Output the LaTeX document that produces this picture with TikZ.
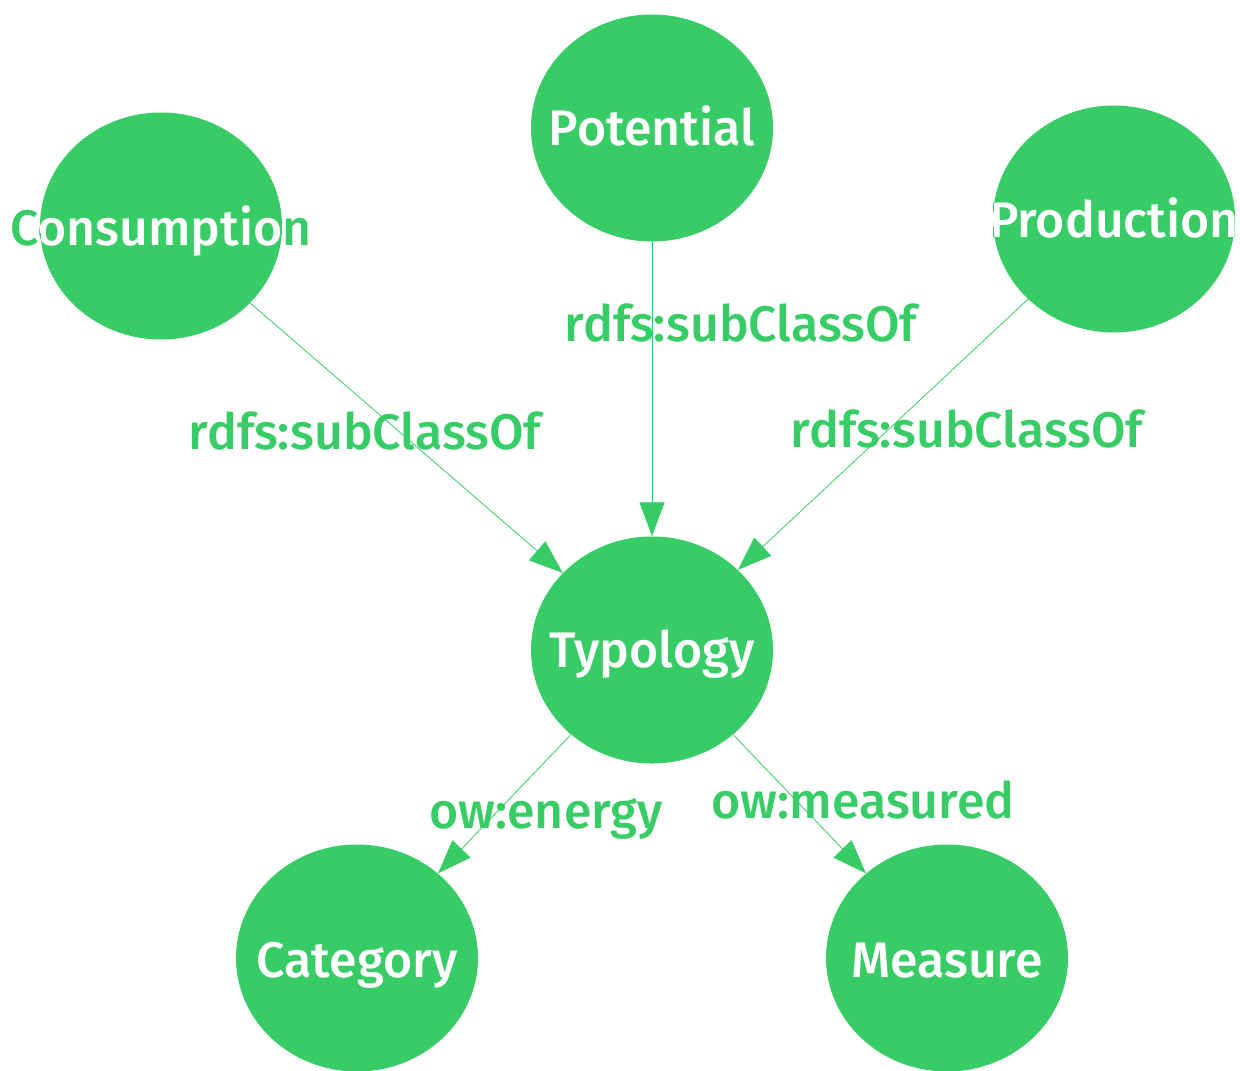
\documentclass[tikz,border=0pt]{standalone}
\usepackage{fontspec}
\setmainfont{Fira Sans Medium}
\usetikzlibrary{shapes.geometric,arrows.meta}
\definecolor{grn}{RGB}{55,204,102}
\begin{document}
\begin{tikzpicture}[x=1pt,y=-1pt,
  cls/.style={ellipse,fill=grn,minimum width=242pt,minimum height=227pt,inner sep=0pt},
  ctext/.style={anchor=base,text=white,font=\fontsize{50}{52}\selectfont,inner sep=0pt},
  gtext/.style={ctext,text=grn},
  rel/.style={draw=grn,line width=0.8pt,-{Triangle[length=34pt,width=25pt]}},
  lbl/.style={anchor=base,text=grn,font=\fontsize{50}{52}\selectfont,inner sep=0pt}]
\useasboundingbox (0,0) rectangle (1240,1071);
\node[cls] (pot) at (652,128) {};
\node[cls] (con) at (161,226) {};
\node[cls] (pro) at (1114,219) {};
\node[cls] (typ) at (652,650) {};
\node[cls] (cat) at (357,958) {};
\node[cls] (mea) at (947,958) {};
\draw[rel] (con) -- (typ);
\draw[rel] (pot) -- (typ);
\draw[rel] (pro) -- (typ);
\draw[rel] (typ) -- (cat);
\draw[rel] (typ) -- (mea);
\node[ctext] (tpot) at (652,145) {Potential};
\node[gtext] (gcon) at (161,245) {Consumption};
\begin{scope}
  \clip (con.center) ellipse [x radius=121, y radius=113.5];
  \node[ctext] (tcon) at (161,245) {Consumption};
\end{scope}
\node[gtext] (gpro) at (1114,237) {Production};
\begin{scope}
  \clip (pro.center) ellipse [x radius=121, y radius=113.5];
  \node[ctext] (tpro) at (1114,237) {Production};
\end{scope}
\node[ctext] (ttyp) at (652,667) {Typology};
\node[ctext] (tcat) at (357,977) {Category};
\node[ctext] (tmea) at (947,977) {Measure};
\node[lbl] (l1) at (365,449) {rdfs:subClassOf};
\node[lbl] (l2) at (741,341) {rdfs:subClassOf};
\node[lbl] (l3) at (967,447) {rdfs:subClassOf};
\node[lbl] (l4) at (546,828) {ow:energy};
\node[lbl] (l5) at (863,818) {ow:measured};
\end{tikzpicture}
\end{document}
